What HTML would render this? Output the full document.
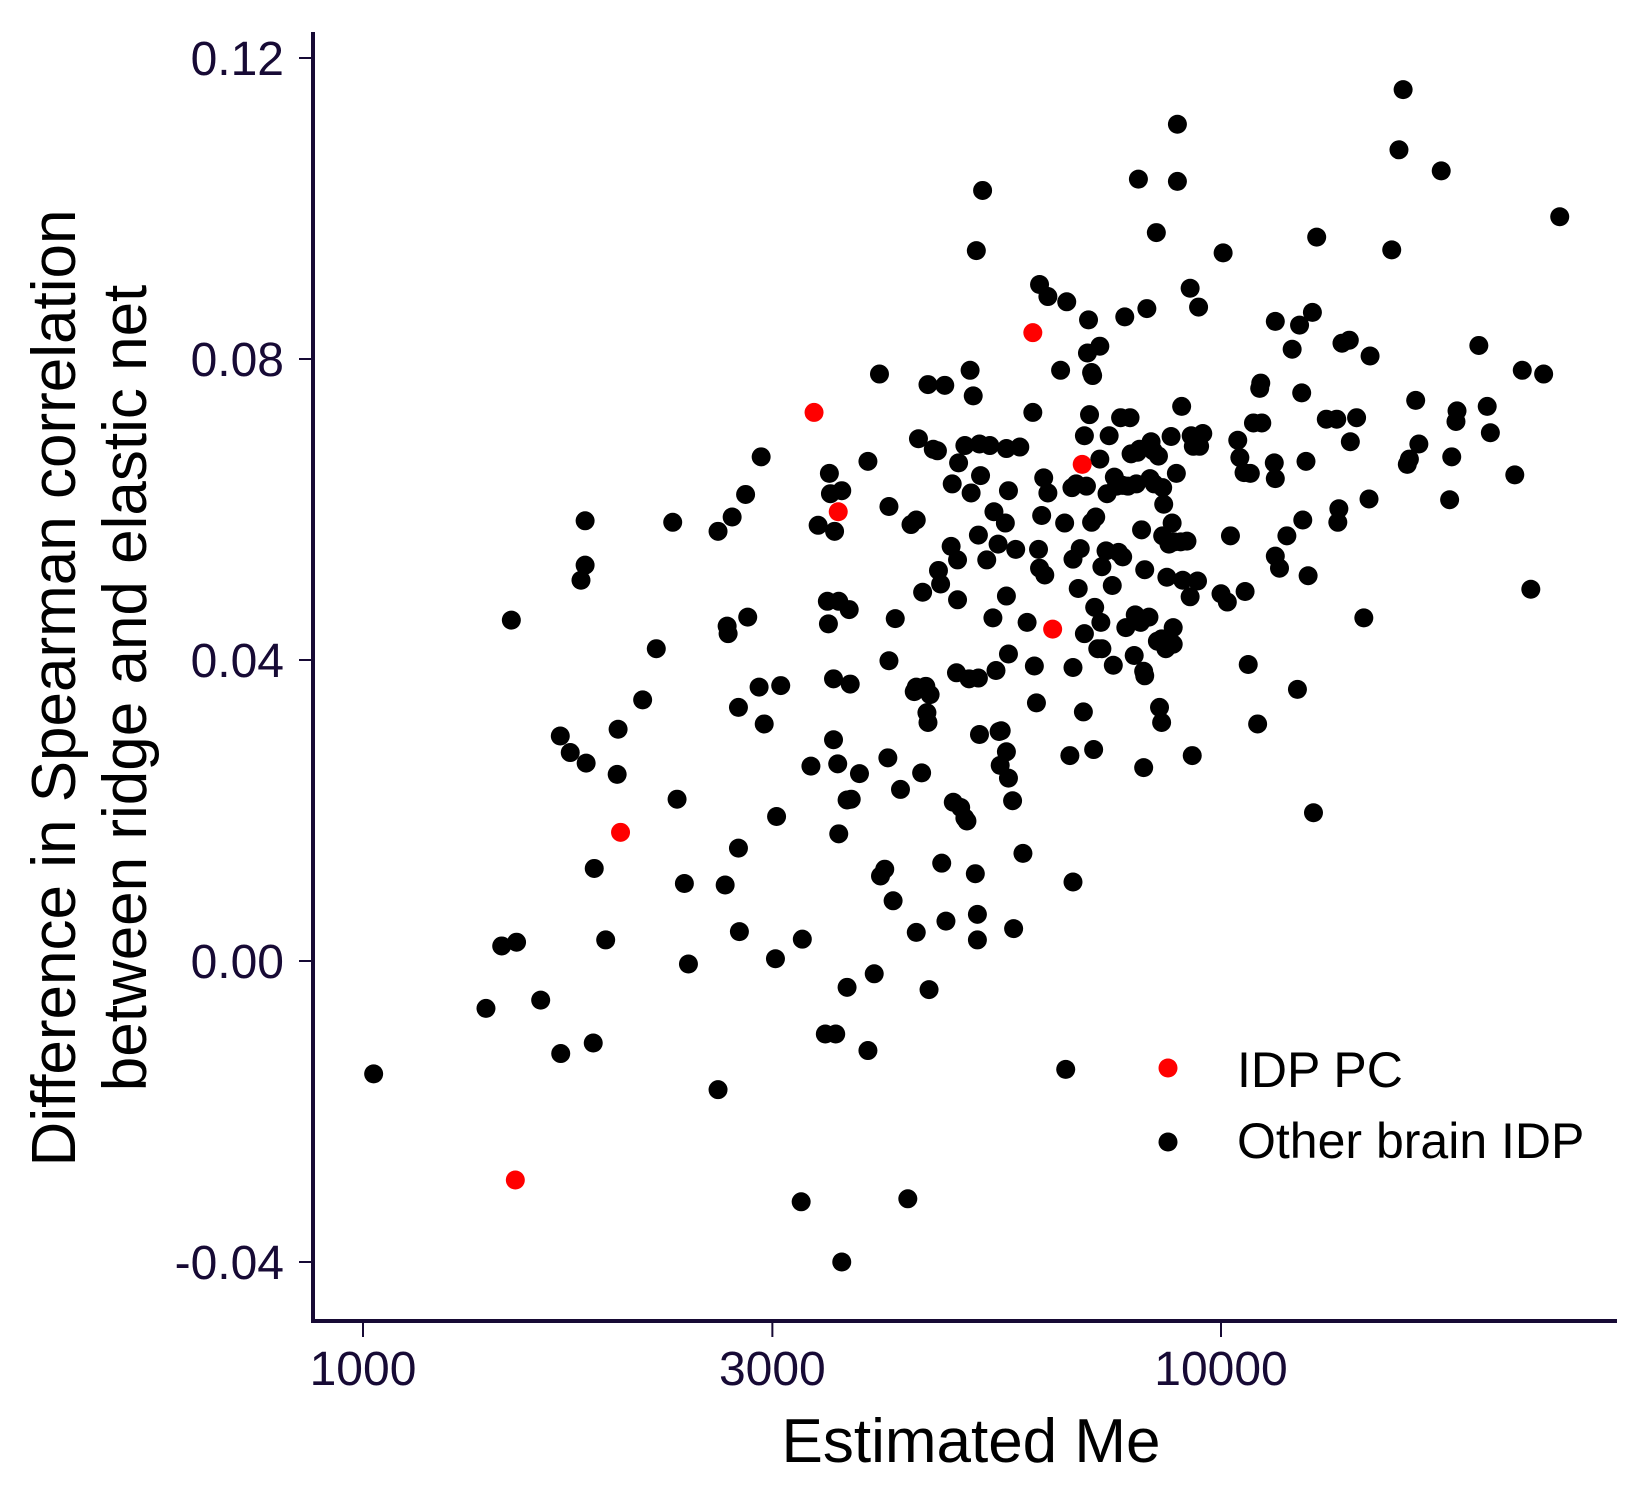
<!DOCTYPE html>
<html><head><meta charset="utf-8"><style>
html,body{margin:0;padding:0;background:#fff;}
svg{display:block;font-family:"Liberation Sans",Arial,sans-serif;}
</style></head><body>
<svg id="chart" width="1650" height="1500" viewBox="0 0 1650 1500" xmlns="http://www.w3.org/2000/svg">
<rect width="1650" height="1500" fill="#fff"/>
<g id="axes"></g>
<g id="points"></g>
<text x="971" y="1462" font-size="62" text-anchor="middle" fill="#000">Estimated Me</text>
<g font-size="62" fill="#000" text-anchor="middle">
<text transform="translate(75,688) rotate(-90)">Difference in Spearman correlation</text>
<text transform="translate(146,688) rotate(-90)">between ridge and elastic net</text>
</g>
<g font-size="50" fill="#000">
<circle cx="1168" cy="1068" r="9.5" fill="#ff0000"/>
<text x="1237" y="1087">IDP PC</text>
<circle cx="1168" cy="1142" r="9.5" fill="#000"/>
<text x="1237" y="1158">Other brain IDP</text>
</g>
</svg>
<script>
const xTicks = [1000, 3000, 10000];
const xTickLabels = ["1000", "3000", "10000"];
const yTicks = [-0.04, 0.00, 0.04, 0.08, 0.12];
const yTickLabels = ["-0.04", "0.00", "0.04", "0.08", "0.12"];

const pcMe = [1505, 1996, 3355, 3580, 6035, 6365, 6890];
const pcDiff = [-0.0291, 0.0171, 0.0729, 0.0597, 0.0835, 0.0441, 0.0660];

const otherMe = [1029,1391,1451,1510,1489,1611,1700,1698,1744,1820,1795,1815,1815,1855,1860,1918,1978,1983,2118,2197,2296,2323,2369,2395,2593,2593,2643,2657,2664,2693,2739,2739,2746,2792,2808,2895,2911,2935,3025,3034,3068,3251,3241,3327,3392,3458,3556,3496,3506,3614,3545,3477,3585,3687,3487,3535,3697,3535,3575,3585,3666,3707,3666,3614,3790,3877,3877,3943,3999,4010,4056,4090,4102,4102,4148,4172,4231,4315,4352,4414,4440,4414,4390,4414,4490,4478,4529,4555,4542,4568,4581,4555,4620,4672,4685,4712,4726,4765,4780,4847,4861,4875,4931,4917,4931,4945,4973,5029,5029,5057,5086,5100,5114,5143,5172,5186,5201,5201,5215,5215,5230,5245,5274,5230,5333,5377,5422,5437,5467,5498,5513,5544,5529,5606,5622,5622,5653,5653,5622,5653,5716,5764,5732,5828,5877,5943,6035,6060,6094,6128,6145,6145,6180,6214,6232,6284,6284,6502,6573,6592,6610,6666,6703,6722,6722,6722,6779,6817,6854,6912,6931,6931,6969,6988,7008,7027,7066,7086,7066,7105,7125,7145,7184,7224,7224,7244,7264,7264,7345,7365,7407,7469,7490,7511,7553,7596,7638,7681,7681,7724,7746,7790,7834,7856,7922,7944,7967,7989,8012,8035,8058,8080,8126,8126,8149,8149,8196,8242,8266,8289,8336,8360,8407,8431,8455,8479,8527,8527,8551,8575,8551,8624,8648,8697,8746,8771,8796,8796,8821,8871,8896,8896,8973,8998,9024,9127,9205,9205,9231,9257,9284,9389,9416,9442,9523,10000,10057,10171,10257,10460,10519,10638,10668,10758,10819,10910,11033,11095,11126,11157,11537,11569,11569,11569,11700,11934,12104,12277,12347,12418,12454,12562,12634,12780,12817,12928,13265,13643,13720,13682,13836,14110,14150,14389,14671,14877,14919,15812,16122,16303,16487,16580,16862,17006,18058,18470,18575,18787,18840,19976,20430,20604,22000,22445,22966,23771,24820];
const otherDiff = [-0.0150,-0.0063,0.0020,0.0025,0.0453,-0.0052,-0.0123,0.0299,0.0277,0.0263,0.0506,0.0526,0.0585,-0.0109,0.0123,0.0028,0.0248,0.0308,0.0347,0.0415,0.0583,0.0215,0.0103,-0.0004,0.0571,-0.0171,0.0101,0.0445,0.0435,0.0590,0.0337,0.0150,0.0039,0.0620,0.0457,0.0364,0.0670,0.0315,0.0003,0.0192,0.0366,0.0029,-0.0320,0.0259,0.0579,-0.0097,-0.0097,0.0648,0.0621,0.0625,0.0571,0.0478,0.0478,0.0467,0.0448,0.0375,0.0368,0.0294,0.0262,0.0169,0.0214,0.0215,-0.0035,-0.0400,0.0249,-0.0119,0.0664,-0.0017,0.0780,0.0113,0.0122,0.0270,0.0399,0.0604,0.0080,0.0455,0.0228,-0.0316,0.0580,0.0038,0.0694,0.0586,0.0358,0.0364,0.0490,0.0250,0.0365,0.0317,0.0330,-0.0038,0.0354,0.0766,0.0680,0.0678,0.0519,0.0501,0.0130,0.0765,0.0053,0.0551,0.0634,0.0211,0.0533,0.0383,0.0480,0.0662,0.0204,0.0685,0.0190,0.0186,0.0375,0.0785,0.0622,0.0751,0.0116,0.0944,0.0028,0.0062,0.0376,0.0566,0.0687,0.0645,0.1024,0.0301,0.0533,0.0685,0.0456,0.0597,0.0386,0.0554,0.0305,0.0306,0.0260,0.0582,0.0681,0.0278,0.0243,0.0625,0.0485,0.0408,0.0213,0.0547,0.0043,0.0683,0.0143,0.0450,0.0729,0.0392,0.0343,0.0547,0.0899,0.0522,0.0592,0.0642,0.0513,0.0883,0.0622,0.0785,0.0582,-0.0144,0.0876,0.0273,0.0629,0.0105,0.0390,0.0534,0.0634,0.0495,0.0548,0.0331,0.0698,0.0435,0.0631,0.0808,0.0852,0.0726,0.0782,0.0778,0.0583,0.0281,0.0470,0.0590,0.0415,0.0667,0.0817,0.0450,0.0524,0.0415,0.0545,0.0621,0.0698,0.0499,0.0393,0.0643,0.0631,0.0543,0.0722,0.0537,0.0632,0.0856,0.0443,0.0631,0.0722,0.0674,0.0406,0.0460,0.0634,0.0676,0.1039,0.0680,0.0450,0.0573,0.0385,0.0257,0.0379,0.0520,0.0867,0.0457,0.0641,0.0690,0.0678,0.0634,0.0968,0.0425,0.0671,0.0337,0.0317,0.0428,0.0629,0.0607,0.0565,0.0415,0.0510,0.0554,0.0697,0.0582,0.0421,0.0443,0.0557,0.0648,0.1112,0.1036,0.0557,0.0737,0.0506,0.0558,0.0894,0.0484,0.0698,0.0273,0.0684,0.0505,0.0869,0.0684,0.0701,0.0488,0.0941,0.0477,0.0565,0.0692,0.0669,0.0649,0.0491,0.0394,0.0648,0.0715,0.0315,0.0761,0.0768,0.0715,0.0662,0.0641,0.0538,0.0850,0.0522,0.0565,0.0813,0.0361,0.0845,0.0755,0.0586,0.0664,0.0512,0.0862,0.0197,0.0962,0.0720,0.0720,0.0601,0.0583,0.0821,0.0825,0.0690,0.0722,0.0456,0.0614,0.0804,0.0945,0.1078,0.1158,0.0660,0.0667,0.0745,0.0687,0.1050,0.0613,0.0670,0.0717,0.0731,0.0818,0.0737,0.0702,0.0646,0.0785,0.0494,0.0780,0.0989];

const NS = "http://www.w3.org/2000/svg";
function xScale(v){ return 363 + 858 * Math.log10(v / 1000); }
function yScale(v){ return 58 + (0.12 - v) * 7525; }
const AXC = "#170a35";
const axes = document.getElementById('axes');
const pts = document.getElementById('points');
function mk(tag, attrs, parent){ const e = document.createElementNS(NS, tag); for (const k in attrs) e.setAttribute(k, attrs[k]); parent.appendChild(e); return e; }

const yl = mk('line', {x1:313, y1:32, x2:313, y2:1323, stroke:AXC, 'stroke-width':4}, axes);


const xl = mk('line', {x1:311, y1:1321, x2:1617, y2:1321, stroke:AXC, 'stroke-width':4}, axes);



yTicks.forEach((t, i) => {
  const y = yScale(t);
  const tk = mk('line', {x1:299, y1:y, x2:313, y2:y, stroke:AXC, 'stroke-width':2}, axes);
  
  
  const tx = mk('text', {x:284, y:y + 17, 'font-size':48, 'text-anchor':'end', fill:AXC}, axes);
  tx.textContent = yTickLabels[i];
  
  
});
xTicks.forEach((t, i) => {
  const x = xScale(t);
  const tk = mk('line', {x1:x, y1:1321, x2:x, y2:1337, stroke:AXC, 'stroke-width':2}, axes);
  
  
  const tx = mk('text', {x:x, y:1385, 'font-size':48, 'text-anchor':'middle', fill:AXC}, axes);
  tx.textContent = xTickLabels[i];
  
  
});

otherMe.forEach((m, i) => {
  const c = mk('circle', {cx:xScale(m), cy:yScale(otherDiff[i]), r:9.5, fill:'#000'}, pts);
  
  
});
pcMe.forEach((m, i) => {
  const c = mk('circle', {cx:xScale(m), cy:yScale(pcDiff[i]), r:9.5, fill:'#ff0000'}, pts);
  
  
});
</script>
</body></html>
